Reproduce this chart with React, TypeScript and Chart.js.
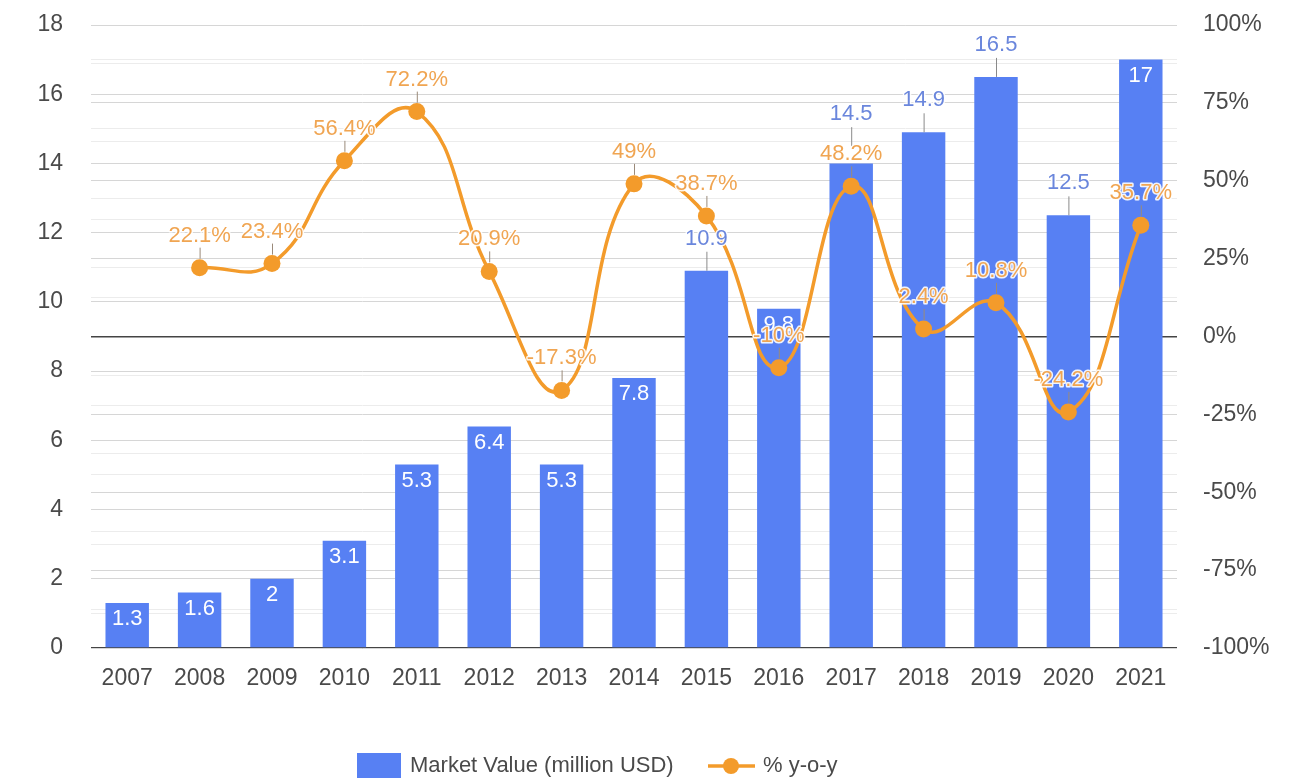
import React, { useEffect, useRef } from 'react';
import { Chart, registerables } from 'chart.js';

Chart.register(...registerables);

const FONT = "'Liberation Sans', Arial, sans-serif";

const years = ['2007', '2008', '2009', '2010', '2011', '2012', '2013', '2014', '2015', '2016', '2017', '2018', '2019', '2020', '2021'];
const marketValue = [1.3, 1.6, 2, 3.1, 5.3, 6.4, 5.3, 7.8, 10.9, 9.8, 14, 14.9, 16.5, 12.5, 17];
const marketLabels = [1.3, 1.6, 2, 3.1, 5.3, 6.4, 5.3, 7.8, 10.9, 9.8, 14.5, 14.9, 16.5, 12.5, 17];
const yoyPct: (number | null)[] = [null, 22.1, 23.4, 56.4, 72.2, 20.9, -17.3, 49, 38.7, -10, 48.2, 2.4, 10.8, -24.2, 35.7];
const leftAxis = { min: 0, max: 18, major: 2, minor: 1 };
const rightAxis = { min: -100, max: 100, major: 25, minor: 12.5 };
const seriesNames = ['Market Value (million USD)', '% y-o-y'];

const BAR_COLOR = '#5780f3';
const LINE_COLOR = '#f39b2b';
const BAR_LABEL_COLOR = '#6a86dc';
const LINE_LABEL_COLOR = '#f0a552';
const TEXT_COLOR = '#4a4a4a';
const INSIDE_LABEL = new Set([0, 1, 2, 3, 4, 5, 6, 7, 9, 14]);

const annotationPlugin = {
  id: 'annotations',
  afterDatasetsDraw(chart: any) {
    const ctx = chart.ctx;
    const xs = chart.scales.x;
    const ys = chart.scales.y;
    const y1 = chart.scales.y1;
    ctx.save();
    ctx.font = `22px ${FONT}`;
    ctx.textAlign = 'center';
    ctx.textBaseline = 'middle';
    ctx.lineJoin = 'round';
    marketLabels.forEach((v, i) => {
      const px = xs.getPixelForValue(i);
      const py = ys.getPixelForValue(v);
      const text = String(v);
      if (INSIDE_LABEL.has(i)) {
        ctx.fillStyle = '#ffffff';
        ctx.fillText(text, px, py + 16);
      } else {
        ctx.strokeStyle = '#8a8a8a';
        ctx.lineWidth = 1;
        ctx.beginPath();
        ctx.moveTo(px + 0.5, py);
        ctx.lineTo(px + 0.5, py - 19);
        ctx.stroke();
        ctx.strokeStyle = 'rgba(255,255,255,0.9)';
        ctx.lineWidth = 3;
        ctx.strokeText(text, px, py - 32);
        ctx.fillStyle = BAR_LABEL_COLOR;
        ctx.fillText(text, px, py - 32);
      }
    });
    yoyPct.forEach((v, i) => {
      if (v === null) return;
      const px = xs.getPixelForValue(i);
      const py = y1.getPixelForValue(v);
      const text = `${v}%`;
      ctx.strokeStyle = '#9a8a7a';
      ctx.lineWidth = 1;
      ctx.beginPath();
      ctx.moveTo(px + 0.5, py - 9);
      ctx.lineTo(px + 0.5, py - 20);
      ctx.stroke();
      ctx.strokeStyle = 'rgba(255,255,255,0.9)';
      ctx.lineWidth = 3;
      ctx.strokeText(text, px, py - 32);
      ctx.fillStyle = LINE_LABEL_COLOR;
      ctx.fillText(text, px, py - 32);
    });
    ctx.restore();
  },
  afterDraw(chart: any) {
    const ctx = chart.ctx;
    ctx.save();
    ctx.font = `22px ${FONT}`;
    ctx.textBaseline = 'middle';
    ctx.textAlign = 'left';
    const cy = 766;
    ctx.fillStyle = BAR_COLOR;
    ctx.fillRect(357, 753, 44, 25);
    ctx.fillStyle = TEXT_COLOR;
    ctx.fillText(seriesNames[0], 410, cy);
    ctx.strokeStyle = LINE_COLOR;
    ctx.lineWidth = 3.5;
    ctx.beginPath();
    ctx.moveTo(708, cy);
    ctx.lineTo(755, cy);
    ctx.stroke();
    ctx.fillStyle = LINE_COLOR;
    ctx.beginPath();
    ctx.arc(731, cy, 8, 0, Math.PI * 2);
    ctx.fill();
    ctx.fillStyle = TEXT_COLOR;
    ctx.fillText(seriesNames[1], 763, cy);
    ctx.restore();
  },
};

function gridColor(value: number, major: number) {
  if (value === 0) return '#444444';
  return Math.abs(value % major) < 1e-6 ? '#d6d6d6' : '#ececec';
}

export default function App() {
  const canvasRef = useRef<HTMLCanvasElement>(null);

  useEffect(() => {
    document.body.style.margin = '0';
    const canvas = canvasRef.current;
    if (!canvas) return;
    const chart = new Chart(canvas, {
      type: 'bar',
      data: {
        labels: years,
        datasets: [
          {
            type: 'line',
            label: seriesNames[1],
            data: yoyPct,
            yAxisID: 'y1',
            borderColor: LINE_COLOR,
            backgroundColor: LINE_COLOR,
            borderWidth: 3.5,
            pointRadius: 8.5,
            pointBackgroundColor: LINE_COLOR,
            pointBorderWidth: 0,
            tension: 0.45,
            spanGaps: true,
            order: 0,
          } as any,
          {
            type: 'bar',
            label: seriesNames[0],
            data: marketValue,
            yAxisID: 'y',
            backgroundColor: BAR_COLOR,
            barPercentage: 0.6,
            categoryPercentage: 1,
            order: 1,
          },
        ],
      },
      options: {
        responsive: false,
        animation: false,
        layout: { padding: { top: 25, left: 0, right: 0, bottom: 0 } },
        plugins: {
          legend: { display: false },
          tooltip: { enabled: false },
        },
        scales: {
          x: {
            grid: { display: false, drawTicks: false },
            border: { display: false },
            ticks: {
              color: TEXT_COLOR,
              font: { size: 23, family: FONT },
              padding: 17,
              maxRotation: 0,
              autoSkip: false,
            },
            afterFit(scale: any) {
              scale.height = 135;
              scale.paddingLeft = 0;
              scale.paddingRight = 0;
            },
          },
          y: {
            position: 'left',
            min: leftAxis.min,
            max: leftAxis.max,
            grid: {
              drawTicks: false,
              color: (c: any) => gridColor(c.tick.value, leftAxis.major),
              lineWidth: (c: any) => (c.tick.value === 0 ? 1.5 : 1),
            },
            border: { display: false },
            ticks: {
              stepSize: leftAxis.minor,
              autoSkip: false,
              color: TEXT_COLOR,
              font: { size: 23, family: FONT },
              padding: 28,
              callback: (v: any) => (Math.abs(v % leftAxis.major) < 1e-6 ? String(v) : ''),
            },
            afterFit(scale: any) {
              scale.width = 91;
              scale.paddingTop = 0;
              scale.paddingBottom = 0;
            },
          },
          y1: {
            position: 'right',
            min: rightAxis.min,
            max: rightAxis.max,
            grid: {
              drawTicks: false,
              color: (c: any) => gridColor(c.tick.value, rightAxis.major),
              lineWidth: (c: any) => (c.tick.value === 0 ? 1.5 : 1),
            },
            border: { display: false },
            ticks: {
              stepSize: rightAxis.minor,
              autoSkip: false,
              color: TEXT_COLOR,
              font: { size: 23, family: FONT },
              padding: 26,
              callback: (v: any) => (Math.abs(v % rightAxis.major) < 1e-6 ? `${v}%` : ''),
            },
            afterFit(scale: any) {
              scale.width = 133;
              scale.paddingTop = 0;
              scale.paddingBottom = 0;
            },
          },
        },
      },
      plugins: [annotationPlugin],
    });
    return () => chart.destroy();
  }, []);

  return (
    <div style={{ width: 1310, height: 783, background: '#ffffff' }}>
      <canvas ref={canvasRef} width={1310} height={783} style={{ display: 'block' }} />
    </div>
  );
}
